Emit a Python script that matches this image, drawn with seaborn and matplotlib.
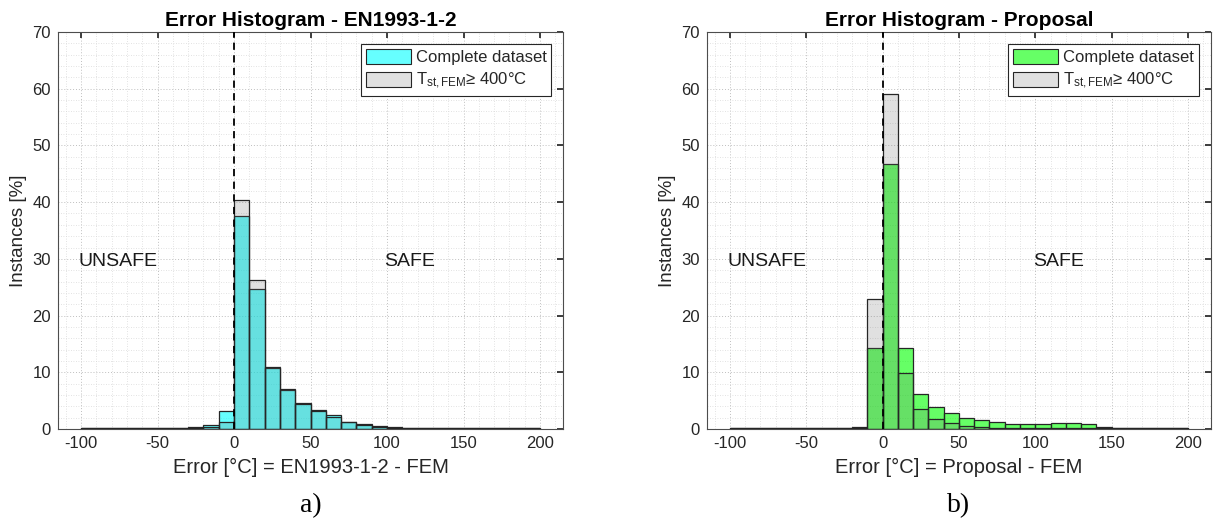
import numpy as np
import pandas as pd
import matplotlib
matplotlib.use("Agg")
import matplotlib.pyplot as plt
from matplotlib.ticker import MultipleLocator
from matplotlib.patches import Patch
import seaborn as sns

# ---- data (percent of instances per 10 °C bin, bins -100..200) ----
bin_edges = list(range(-100, 201, 10))

en_complete = [0.15, 0.1, 0.1, 0.1, 0.1, 0.15, 0.2, 0.3, 0.7, 3.2,
               37.6, 24.6, 10.8, 6.9, 4.5, 3.4, 2.5, 1.3, 0.9, 0.5,
               0.3, 0.15, 0.1, 0.1, 0.1, 0.1, 0.1, 0.1, 0.1, 0.1]
en_hot = [0.1, 0.1, 0.1, 0.1, 0.1, 0.1, 0.15, 0.2, 0.4, 1.2,
          40.4, 26.2, 11.0, 7.0, 4.4, 3.2, 2.2, 1.2, 0.7, 0.4,
          0.2, 0.1, 0.1, 0.1, 0.1, 0.1, 0.1, 0.1, 0.1, 0.1]

pr_complete = [0.1, 0.1, 0.1, 0.1, 0.1, 0.1, 0.1, 0.1, 0.4, 14.2,
               46.7, 14.2, 6.2, 3.8, 2.8, 2.0, 1.5, 1.2, 0.9, 0.9,
               0.9, 1.1, 1.1, 0.8, 0.3, 0.1, 0.1, 0.1, 0.1, 0.1]
pr_hot = [0.1, 0.1, 0.1, 0.1, 0.1, 0.1, 0.1, 0.1, 0.2, 22.9,
          59.1, 9.8, 3.5, 1.7, 1.0, 0.6, 0.3, 0.2, 0.15, 0.15,
          0.15, 0.15, 0.15, 0.15, 0.15, 0.1, 0.1, 0.1, 0.1, 0.1]

x_ticks = [-100, -50, 0, 50, 100, 150, 200]
y_ticks = [0, 10, 20, 30, 40, 50, 60, 70]

panels = [
    dict(title="Error Histogram - EN1993-1-2", xlabel="Error [°C] = EN1993-1-2 - FEM",
         complete=en_complete, hot=en_hot, color=(0.0, 1.0, 1.0), tag="a)"),
    dict(title="Error Histogram - Proposal", xlabel="Error [°C] = Proposal - FEM",
         complete=pr_complete, hot=pr_hot, color=(0.0, 1.0, 0.0), tag="b)"),
]

sns.set_theme(style="white")
plt.rcParams["font.family"] = ["Liberation Sans", "DejaVu Sans"]
plt.rcParams["mathtext.fontset"] = "custom"
plt.rcParams["mathtext.rm"] = "Liberation Sans"
plt.rcParams["mathtext.it"] = "Liberation Sans"
plt.rcParams["axes.unicode_minus"] = False

fig = plt.figure(figsize=(12.14, 5.21), dpi=100)
axes = [fig.add_axes([0.0478, 0.1766, 0.4160, 0.7620]),
        fig.add_axes([0.5824, 0.1766, 0.4150, 0.7620])]

centers = [(a + b) / 2 for a, b in zip(bin_edges[:-1], bin_edges[1:])]
edge_col = (0.15, 0.15, 0.15)
text_col = (0.15, 0.15, 0.15)
gray_face = (0.4, 0.4, 0.4, 0.2)

for ax, p in zip(axes, panels):
    df = pd.DataFrame({"err": centers, "complete": p["complete"], "hot": p["hot"]})
    face = (*p["color"], 0.6)
    sns.histplot(data=df, x="err", weights="complete", bins=bin_edges, ax=ax,
                 facecolor=face, edgecolor=edge_col, linewidth=0.9, zorder=3)
    sns.histplot(data=df, x="err", weights="hot", bins=bin_edges, ax=ax,
                 facecolor=gray_face, edgecolor=edge_col, linewidth=0.9, zorder=4)

    ax.axvline(0, color="black", ls=(0, (4, 3)), lw=1.3, zorder=5)
    ax.set_xlim(-115, 215)
    ax.set_ylim(0, 70)
    ax.set_xticks(x_ticks)
    ax.set_yticks(y_ticks)
    ax.xaxis.set_minor_locator(MultipleLocator(10))
    ax.yaxis.set_minor_locator(MultipleLocator(2))
    ax.grid(which="major", color=(0.75, 0.75, 0.75), ls=(0, (1, 2)), lw=0.7, zorder=0)
    ax.grid(which="minor", color=(0.85, 0.85, 0.85), ls=(0, (1, 2)), lw=0.6, zorder=0)
    ax.set_axisbelow(True)
    ax.tick_params(axis="both", which="major", direction="in", length=4,
                   labelsize=12, colors=text_col, top=True, right=True, pad=5)
    ax.tick_params(which="minor", length=0)
    for s in ax.spines.values():
        s.set_color((0.3, 0.3, 0.3))
        s.set_linewidth(0.8)

    ax.set_title(p["title"], fontsize=15, fontweight="bold", pad=4, color="black")
    ax.set_xlabel(p["xlabel"], fontsize=14.5, color=text_col, labelpad=5)
    ax.set_ylabel("Instances [%]", fontsize=13.5, color=text_col, labelpad=4)

    ax.text(-76, 29.5, "UNSAFE", fontsize=14, ha="center", va="center", color=(0.1, 0.1, 0.1))
    ax.text(115, 29.5, "SAFE", fontsize=14, ha="center", va="center", color=(0.1, 0.1, 0.1))

    handles = [Patch(facecolor=(1 - 0.6 * (1 - p["color"][0]), 1 - 0.6 * (1 - p["color"][1]),
                                1 - 0.6 * (1 - p["color"][2])), edgecolor=edge_col, linewidth=0.8),
               Patch(facecolor=(0.88, 0.88, 0.88), edgecolor=edge_col, linewidth=0.8)]
    labels = ["Complete dataset", r"$\mathregular{T_{st,FEM}}$≥ 400°C"]
    leg = ax.legend(handles, labels, loc="upper right", fontsize=12, frameon=True,
                    fancybox=False, edgecolor=(0.15, 0.15, 0.15), framealpha=1,
                    handlelength=2.7, handleheight=1.0, borderaxespad=0.7,
                    handletextpad=0.3, labelspacing=0.35, borderpad=0.3)
    leg.get_frame().set_linewidth(0.8)

    pos = ax.get_position()
    fig.text(pos.x0 + pos.width / 2, 0.03, p["tag"], ha="center", va="center",
             fontsize=20, family="Liberation Serif", color="black")

fig.savefig("out.png", dpi=100)
